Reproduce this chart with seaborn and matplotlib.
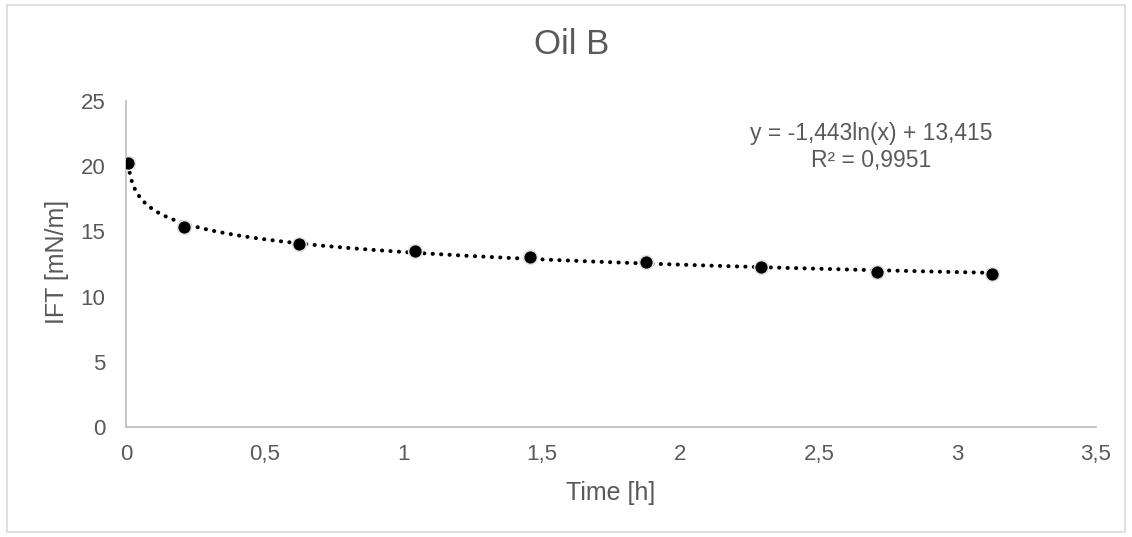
import numpy as np
import pandas as pd
import matplotlib
matplotlib.use("Agg")
import matplotlib.pyplot as plt
import seaborn as sns
from matplotlib.patches import Rectangle

# Data
time_h = [0.0083, 0.2083, 0.625, 1.042, 1.458, 1.875, 2.292, 2.708, 3.125]
ift = [20.25, 15.3, 14.05, 13.5, 13.05, 12.65, 12.27, 11.92, 11.76]
x_ticks = [0, 0.5, 1, 1.5, 2, 2.5, 3, 3.5]
x_tick_labels = ["0", "0,5", "1", "1,5", "2", "2,5", "3", "3,5"]
y_ticks = [0, 5, 10, 15, 20, 25]
title = "Oil B"
x_label = "Time [h]"
y_label = "IFT [mN/m]"
eq_text = "y = -1,443ln(x) + 13,415\nR² = 0,9951"

sns.set_theme(style="white")
plt.rcParams["font.family"] = ["Liberation Sans", "DejaVu Sans"]

TXT = "#595959"
SPINE = "#BFBFBF"

df = pd.DataFrame({"t": time_h, "ift": ift})

# logarithmic trendline fitted from the data
b, a = np.polyfit(np.log(df["t"]), df["ift"], 1)
xs = np.linspace(min(time_h), max(time_h), 800)
trend = pd.DataFrame({"t": xs, "fit": a + b * np.log(xs)})

fig = plt.figure(figsize=(11.32, 5.37), dpi=100)
ax = fig.add_axes([126 / 1132, 1 - 427 / 537, (1096 - 126) / 1132, (427 - 101) / 537])

sns.lineplot(data=trend, x="t", y="fit", ax=ax, color="black", linewidth=2.9,
             linestyle=(0, (0.05, 2.05)))
ax.lines[-1].set_dash_capstyle("round")
sns.scatterplot(data=df, x="t", y="ift", ax=ax, color="black", s=100,
                edgecolor="#E3E3E3", linewidth=1.2, zorder=5)

ax.set_xlim(0, 3.5)
ax.set_ylim(0, 25)
ax.set_xticks(x_ticks)
ax.set_xticklabels(x_tick_labels)
ax.set_yticks(y_ticks)
ax.tick_params(axis="both", colors=TXT, labelsize=16, length=0)
ax.tick_params(axis="x", pad=12)
ax.tick_params(axis="y", pad=15)
ax.set_xlabel(x_label, color=TXT, fontsize=18)
ax.set_ylabel(y_label, color=TXT, fontsize=18)
ax.xaxis.label.set_va("center")
ax.yaxis.label.set_va("center")
ax.xaxis.set_label_coords((611 - 126) / 970, (427 - 493) / 326)
ax.yaxis.set_label_coords((57 - 126) / 970, (427 - 262) / 326)

for s in ["top", "right"]:
    ax.spines[s].set_visible(False)
for s in ["left", "bottom"]:
    ax.spines[s].set_color(SPINE)
    ax.spines[s].set_linewidth(1.3)

fig.text(572 / 1132, 1 - 45 / 537, title, ha="center", va="center", color=TXT, fontsize=25)
ax.text(2.69, 21.45, eq_text, ha="center", va="center", color=TXT,
        fontsize=16.5, linespacing=1.2, transform=ax.transData)

fig.patches.append(Rectangle((7 / 1132, 1 - 532 / 537), 1118 / 1132, 527 / 537,
                             transform=fig.transFigure, fill=False,
                             edgecolor="#D9D9D9", linewidth=1.2))

fig.savefig("out.png", dpi=100)
